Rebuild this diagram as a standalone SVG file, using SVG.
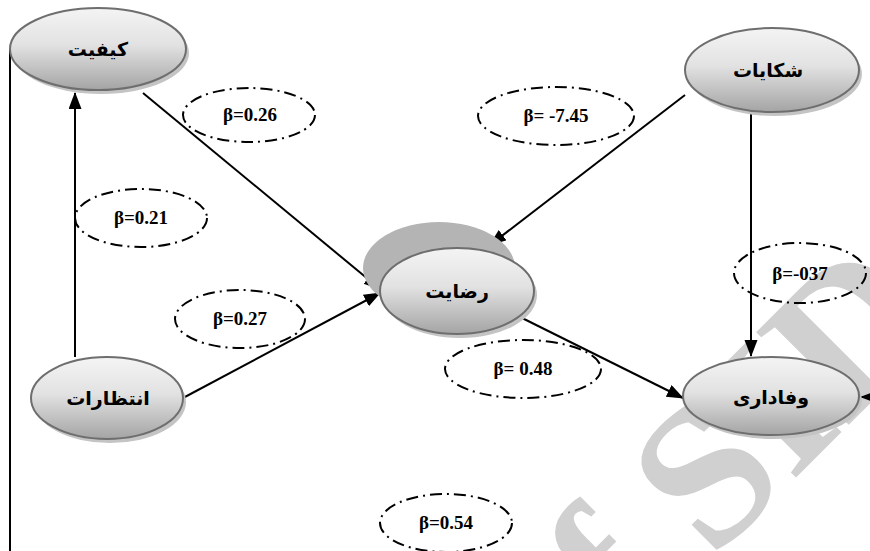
<svg xmlns="http://www.w3.org/2000/svg" width="870" height="551" viewBox="0 0 870 551">
<defs>
<linearGradient id="g" x1="0" y1="0" x2="0" y2="1">
<stop offset="0" stop-color="#f4f4f4"/>
<stop offset="0.45" stop-color="#e2e2e2"/>
<stop offset="1" stop-color="#a4a4a4"/>
</linearGradient>
<marker id="arr" markerUnits="userSpaceOnUse" markerWidth="18" markerHeight="14" refX="16" refY="6.5" orient="auto">
<path d="M0,0 L17,6.5 L0,13 z" fill="#000"/>
</marker>
<style>
.node{fill:url(#g);stroke:#6e6e6e;stroke-width:2}
.sh{fill:#c4c4c4}
.nt{font-family:"DejaVu Sans",sans-serif;font-size:19px;font-weight:bold;fill:#000;text-anchor:middle}
.lbl{fill:none;stroke:#000;stroke-width:2;stroke-dasharray:12 5 2 5}
.lt{font-family:"Liberation Serif",serif;font-size:19px;font-weight:bold;fill:#000;text-anchor:middle}
.ln{stroke:#000;stroke-width:2;fill:none}
.wm{font-family:"Liberation Serif",serif;font-size:200px;font-weight:bold;fill:#d0d0d0}
</style>
</defs>
<rect width="870" height="551" fill="#fff"/>
<g id="watermark" transform="translate(705,475) rotate(-45)">
<text class="wm" x="-272" y="66">of SID</text>
</g>
<g id="connectors">
<line class="ln" x1="10" y1="50" x2="10" y2="551"/>
<line class="ln" x1="75" y1="357" x2="75" y2="93" marker-end="url(#arr)"/>
<line class="ln" x1="143" y1="93" x2="380" y2="289" marker-end="url(#arr)"/>
<line class="ln" x1="183" y1="398" x2="380" y2="293" marker-end="url(#arr)"/>
<line class="ln" x1="685" y1="95" x2="490" y2="245" marker-end="url(#arr)"/>
<line class="ln" x1="751" y1="112" x2="751" y2="356" marker-end="url(#arr)"/>
<line class="ln" x1="510" y1="312" x2="683" y2="398" marker-end="url(#arr)"/>
<line class="ln" x1="880" y1="397" x2="861" y2="397" marker-end="url(#arr)"/>
</g>
<g id="node-quality">
<ellipse class="sh" cx="101" cy="53" rx="88" ry="41"/>
<ellipse class="node" cx="98" cy="49" rx="88" ry="41"/>
<text class="nt" x="98" y="56">کیفیت</text>
</g>
<g id="node-complaints">
<ellipse class="sh" cx="775" cy="74" rx="87" ry="42"/>
<ellipse class="node" cx="772" cy="70" rx="87" ry="42"/>
<text class="nt" x="768" y="77">شکایات</text>
</g>
<g id="node-satisfaction">
<ellipse cx="439" cy="268" rx="76" ry="46" fill="#b4b4b4"/>
<ellipse class="sh" cx="460" cy="295" rx="77" ry="43"/>
<ellipse class="node" cx="457" cy="291" rx="77" ry="43"/>
<text class="nt" x="457" y="298" font-weight="normal">رضایت</text>
</g>
<g id="node-loyalty">
<ellipse class="sh" cx="774" cy="400" rx="88" ry="39"/>
<ellipse class="node" cx="771" cy="396" rx="88" ry="39"/>
<text class="nt" x="771" y="404">وفاداری</text>
</g>
<g id="node-expectations">
<ellipse class="sh" cx="110" cy="402" rx="76" ry="41"/>
<ellipse class="node" cx="107" cy="398" rx="76" ry="41"/>
<text class="nt" x="108" y="405">انتظارات</text>
</g>
<g id="label-026"><ellipse class="lbl" cx="249" cy="115" rx="66" ry="27"/><text class="lt" x="250" y="121">β=0.26</text></g>
<g id="label-021"><ellipse class="lbl" cx="141" cy="218" rx="66" ry="29"/><text class="lt" x="141" y="224">β=0.21</text></g>
<g id="label-027"><ellipse class="lbl" cx="240" cy="319" rx="65" ry="29"/><text class="lt" x="240" y="325">β=0.27</text></g>
<g id="label-745"><ellipse class="lbl" cx="556" cy="116" rx="78" ry="29"/><text class="lt" x="556" y="122">β= -7.45</text></g>
<g id="label-037"><ellipse class="lbl" cx="800" cy="273" rx="66" ry="30"/><text class="lt" x="800" y="280">β=-037</text></g>
<g id="label-048"><ellipse class="lbl" cx="523" cy="369" rx="78" ry="29"/><text class="lt" x="523" y="375">β= 0.48</text></g>
<g id="label-054"><ellipse class="lbl" cx="446" cy="523" rx="66" ry="29"/><text class="lt" x="446" y="529">β=0.54</text></g>
</svg>
